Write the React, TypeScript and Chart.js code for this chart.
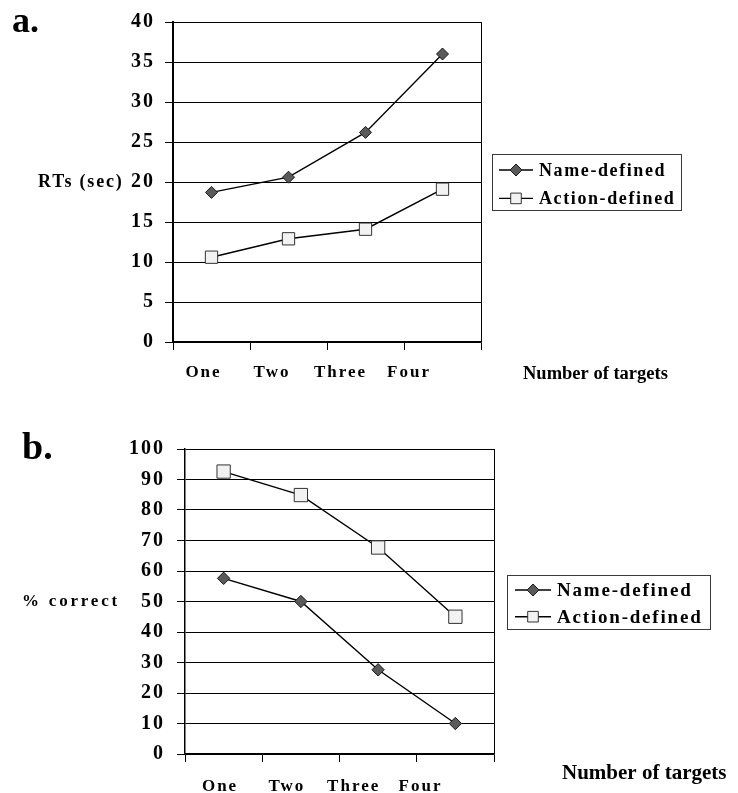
import React, { useEffect, useRef } from 'react';
import { Chart, registerables } from 'chart.js';

Chart.register(...registerables);

// ---------- data ----------
const categories = ['One', 'Two', 'Three', 'Four'];
const seriesNames = ['Name-defined', 'Action-defined'];
const rtNameDefined = [18.7, 20.6, 26.2, 36.0];
const rtActionDefined = [10.6, 12.9, 14.1, 19.1];
const correctNameDefined = [57.6, 50.0, 27.6, 10.0];
const correctActionDefined = [92.6, 84.9, 67.7, 45.0];
const rtAxis = { min: 0, max: 40, step: 5 };
const correctAxis = { min: 0, max: 100, step: 10 };

const FAMILY = '"Liberation Serif", "Times New Roman", serif';

type Cfg = any;

const topCfg: Cfg = {
  top: 0,
  height: 396,
  yW: 173,
  padRight: 257,
  padTop: 20,
  xlH: 46,
  xlPad: 12,
  labelMin: -0.445,
  labelMax: 4.05,
  axis: rtAxis,
  values: [rtNameDefined, rtActionDefined],
  yFont: 20,
  xFont: 17,
  yPad: 10,
  yBorderW: 2,
  nameRadius: 6,
  actionRadius: 8.7,
  axisSpacing: '2px',
  panel: 'a.',
  panelSize: 36,
  panelX: 12,
  panelY: 32,
  yTitle: 'RTs (sec)',
  yTitleAt: 20,
  yTitleRight: 123.5,
  yTitleSize: 18,
  yTitleSpacing: '1.8px',
  xTitle: 'Number of targets',
  xTitleX: 523,
  xTitleY: 379,
  xTitleSize: 18.5,
  legend: { gap: 11, boxH: 56, firstRow: 16, rowH: 28.4, padL: 7, lineLen: 34, textGap: 6, padR: 6, size: 18, spacing: '1.6px', diamondR: 6, squareR: 7.5 },
};

const bottomCfg: Cfg = {
  top: 396,
  height: 397,
  yW: 185,
  padRight: 244,
  padTop: 53,
  xlH: 31,
  xlPad: 14,
  labelMin: -0.524,
  labelMax: 4.1,
  axis: correctAxis,
  values: [correctNameDefined, correctActionDefined],
  yFont: 20,
  xFont: 17,
  yPad: 12,
  yBorderW: 1.5,
  nameRadius: 6.2,
  actionRadius: 9.4,
  axisSpacing: '2px',
  panel: 'b.',
  panelSize: 38,
  panelX: 22,
  panelY: 63,
  yTitle: '% correct',
  yTitleAt: 50,
  yTitleRight: 120,
  yTitleSize: 17,
  yTitleSpacing: '2.8px',
  xTitle: 'Number of targets',
  xTitleX: 562,
  xTitleY: 383,
  xTitleSize: 21,
  legend: { gap: 12.7, boxH: 54, firstRow: 15, rowH: 26.7, padL: 8, lineLen: 36, textGap: 6, padR: 7, size: 19, spacing: '1.8px', diamondR: 6, squareR: 7.5 },
};

function drawMarker(ctx: CanvasRenderingContext2D, style: string, x: number, y: number, r: number, fill: string, stroke: string) {
  ctx.beginPath();
  if (style === 'rectRot') {
    ctx.moveTo(x - r, y);
    ctx.lineTo(x, y - r);
    ctx.lineTo(x + r, y);
    ctx.lineTo(x, y + r);
    ctx.closePath();
  } else {
    const h = r * Math.SQRT1_2;
    ctx.rect(x - h, y - h, 2 * h, 2 * h);
  }
  ctx.fillStyle = fill;
  ctx.fill();
  ctx.lineWidth = 1;
  ctx.strokeStyle = stroke;
  ctx.stroke();
}

function makeExtras(p: Cfg) {
  return {
    id: 'extras',
    beforeDraw(chart: any) {
      (chart.ctx as any).letterSpacing = p.axisSpacing;
    },
    beforeDatasetsDraw(chart: any) {
      (chart.ctx as any).letterSpacing = '0px';
    },
    afterDraw(chart: any) {
      const ctx = chart.ctx as CanvasRenderingContext2D & { letterSpacing: string };
      const area = chart.chartArea;
      const yScale = chart.scales.y;
      ctx.save();
      ctx.fillStyle = '#000';

      // panel label
      ctx.letterSpacing = '0px';
      ctx.font = `bold ${p.panelSize}px ${FAMILY}`;
      ctx.textAlign = 'left';
      ctx.textBaseline = 'alphabetic';
      ctx.fillText(p.panel, p.panelX, p.panelY);

      // y title (horizontal)
      ctx.font = `bold ${p.yTitleSize}px ${FAMILY}`;
      ctx.letterSpacing = p.yTitleSpacing;
      ctx.textAlign = 'right';
      ctx.textBaseline = 'middle';
      ctx.fillText(p.yTitle, p.yTitleRight, yScale.getPixelForValue(p.yTitleAt));

      // x title
      ctx.letterSpacing = '0px';
      ctx.font = `bold ${p.xTitleSize}px ${FAMILY}`;
      ctx.textAlign = 'left';
      ctx.textBaseline = 'alphabetic';
      ctx.fillText(p.xTitle, p.xTitleX, p.xTitleY);

      // legend
      const lg = p.legend;
      ctx.font = `bold ${lg.size}px ${FAMILY}`;
      ctx.letterSpacing = lg.spacing;
      const ds = chart.data.datasets;
      const widths = ds.map((d: any) => ctx.measureText(d.label).width);
      const boxW = lg.padL + lg.lineLen + lg.textGap + Math.max(...widths) + lg.padR;
      const bx = Math.round(area.right + lg.gap);
      const by = Math.round((area.top + area.bottom) / 2 - lg.boxH / 2);
      ctx.lineWidth = 1;
      ctx.strokeStyle = '#3a3a3a';
      ctx.strokeRect(bx + 0.5, by + 0.5, Math.round(boxW), lg.boxH);
      ds.forEach((d: any, i: number) => {
        const ry = by + lg.firstRow + i * lg.rowH;
        const lx = bx + lg.padL;
        ctx.beginPath();
        ctx.moveTo(lx, ry);
        ctx.lineTo(lx + lg.lineLen, ry);
        ctx.strokeStyle = d.borderColor;
        ctx.lineWidth = d.borderWidth;
        ctx.stroke();
        drawMarker(ctx, d.pointStyle, lx + lg.lineLen / 2, ry, d.pointStyle === 'rectRot' ? lg.diamondR : lg.squareR, d.pointBackgroundColor, d.pointBorderColor);
        ctx.fillStyle = '#000';
        ctx.textAlign = 'left';
        ctx.textBaseline = 'middle';
        ctx.fillText(d.label, lx + lg.lineLen + lg.textGap, ry + 1);
      });
      ctx.restore();
    },
  };
}

function Panel({ cfg }: { cfg: Cfg }) {
  const ref = useRef<HTMLCanvasElement>(null);
  useEffect(() => {
    const canvas = ref.current;
    if (!canvas) return;
    const p = cfg;
    const tickFontY = { family: FAMILY, weight: 'bold' as const, size: p.yFont };
    const tickFontX = { family: FAMILY, weight: 'bold' as const, size: p.xFont };
    const chart = new Chart(canvas, {
      type: 'line',
      data: {
        labels: categories,
        datasets: [
          {
            label: seriesNames[0],
            data: p.values[0],
            borderColor: '#000',
            borderWidth: 1.4,
            tension: 0,
            pointStyle: 'rectRot',
            pointRadius: p.nameRadius,
            pointHoverRadius: p.nameRadius,
            pointBackgroundColor: '#5a5a5a',
            pointBorderColor: '#1a1a1a',
            pointBorderWidth: 1,
          },
          {
            label: seriesNames[1],
            data: p.values[1],
            borderColor: '#000',
            borderWidth: 1.4,
            tension: 0,
            pointStyle: 'rect',
            pointRadius: p.actionRadius,
            pointHoverRadius: p.actionRadius,
            pointBackgroundColor: '#f2f2f2',
            pointBorderColor: '#333',
            pointBorderWidth: 1,
          },
        ],
      },
      options: {
        animation: false,
        responsive: false,
        maintainAspectRatio: false,
        events: [],
        layout: { padding: { left: 0, right: p.padRight, top: p.padTop, bottom: 0 } },
        plugins: { legend: { display: false }, tooltip: { enabled: false }, title: { display: false } },
        scales: {
          x: {
            type: 'category',
            position: 'bottom',
            weight: 0,
            offset: true,
            grid: {
              offset: true,
              drawOnChartArea: true,
              drawTicks: true,
              tickLength: 8,
              lineWidth: 1,
              color: (c: any) => (c.tick ? 'rgba(0,0,0,0)' : '#000'),
              tickColor: '#000',
              tickWidth: 1,
            },
            border: { display: true, color: '#000', width: 1.5 },
            ticks: { display: false },
            afterFit: (s: any) => {
              s.height = 8;
            },
          },
          xl: {
            type: 'linear',
            position: 'bottom',
            weight: 1,
            min: p.labelMin,
            max: p.labelMax,
            grid: { display: false, drawTicks: false },
            border: { display: false },
            afterBuildTicks: (s: any) => {
              s.ticks = categories.map((_, i) => ({ value: i }));
            },
            afterFit: (s: any) => {
              s.height = p.xlH;
            },
            ticks: {
              autoSkip: false,
              maxRotation: 0,
              minRotation: 0,
              padding: p.xlPad,
              color: '#000',
              font: tickFontX,
              callback: (v: any) => categories[Math.round(Number(v))],
            },
          },
          y: {
            type: 'linear',
            position: 'left',
            min: p.axis.min,
            max: p.axis.max,
            grid: { color: '#000', lineWidth: 1, drawTicks: true, tickLength: 8, tickColor: '#000' },
            border: { display: true, color: '#000', width: p.yBorderW },
            ticks: { stepSize: p.axis.step, padding: p.yPad, color: '#000', font: tickFontY },
            afterFit: (s: any) => {
              s.width = p.yW;
            },
          },
        },
      } as any,
      plugins: [makeExtras(p)],
    });
    return () => chart.destroy();
  }, [cfg]);
  return (
    <canvas
      ref={ref}
      width={738}
      height={cfg.height}
      style={{ position: 'absolute', left: 0, top: cfg.top, width: 738, height: cfg.height, display: 'block' }}
    />
  );
}

export default function App() {
  return (
    <div style={{ position: 'absolute', left: 0, top: 0, width: 738, height: 793, background: '#fff', overflow: 'hidden' }}>
      <Panel cfg={topCfg} />
      <Panel cfg={bottomCfg} />
    </div>
  );
}
